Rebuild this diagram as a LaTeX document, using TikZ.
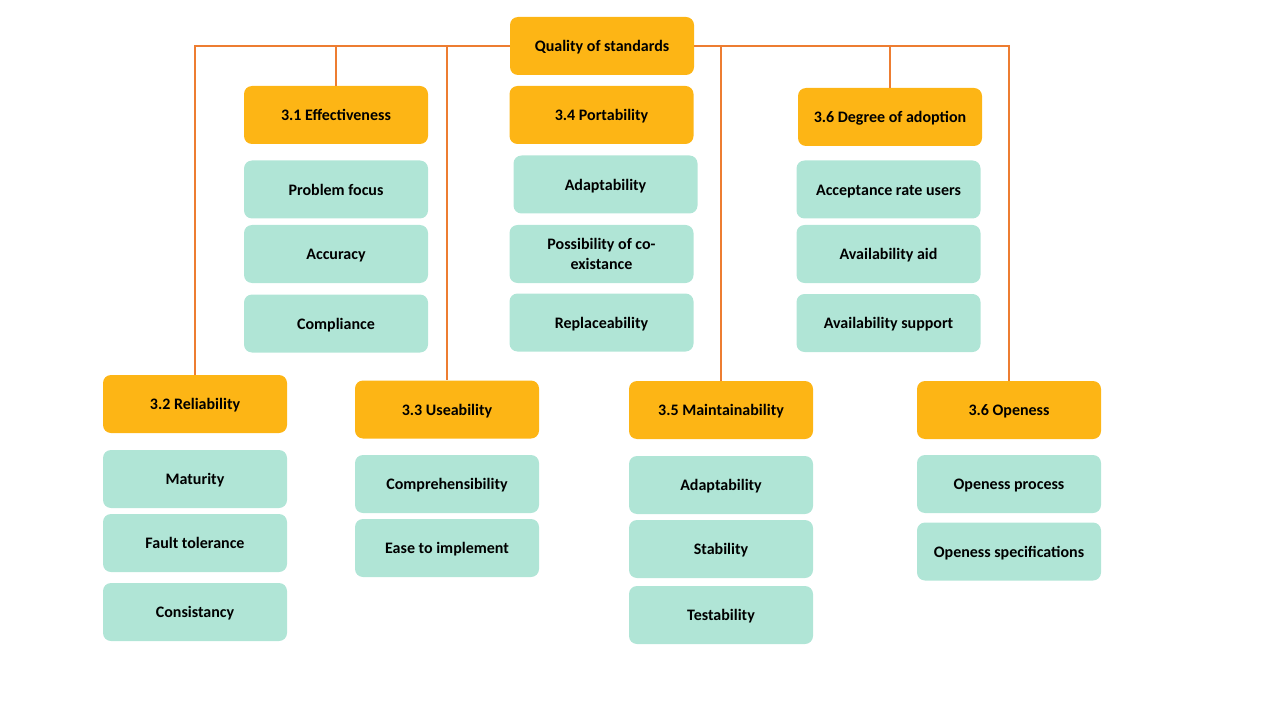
\documentclass[tikz,border=0pt]{standalone}
\usepackage{fontspec}
\setmainfont{Carlito}
\usetikzlibrary{positioning}
\definecolor{headfill}{HTML}{FDB515}
\definecolor{itemfill}{HTML}{B0E5D6}
\definecolor{linkcol}{HTML}{ED7D31}
\tikzset{%
box/.style={rounded corners=6pt,minimum width=138pt,minimum height=43.5pt,
  inner sep=2pt,align=center,text height=9pt,text depth=0.2pt,
  font=\bfseries\fontsize{12pt}{14.5pt}\selectfont},
head/.style={box,fill=headfill},
item/.style={box,fill=itemfill},
link/.style={linkcol,line width=1.4pt},
}
\begin{document}
\begin{tikzpicture}[x=0.75pt,y=-0.75pt]
 \useasboundingbox (0,0) rectangle (1280,720);
 % top
 \node[head] (root) at (602,46) {Quality of standards};
 \node[head] (eff) at (336,115) {3.1 Effectiveness};
 \node[head] (port) at (601.5,115) {3.4 Portability};
 \node[head] (adop) at (890,117) {3.6 Degree of adoption};
 \node[item] (eff1) at (336,189.5) {Problem focus};
 \node[item] (eff2) at (336,254) {Accuracy};
 \node[item] (eff3) at (336,323.5) {Compliance};
 \node[item] (port1) at (605.5,184.5) {Adaptability};
 \node[item,text height=,text depth=] (port2) at (601.5,254) {Possibility of co-\\existance};
 \node[item] (port3) at (601.5,322.5) {Replaceability};
 \node[item] (adop1) at (888.5,189.5) {Acceptance rate users};
 \node[item] (adop2) at (888.5,254) {Availability aid};
 \node[item] (adop3) at (888.5,323) {Availability support};
 % bottom
 \node[head] (rel) at (195,404) {3.2 Reliability};
 \node[head] (use) at (447,409.5) {3.3 Useability};
 \node[head] (main) at (721,410) {3.5 Maintainability};
 \node[head] (open) at (1009,410) {3.6 Openess};
 \node[item] (rel1) at (195,479) {Maturity};
 \node[item] (rel2) at (195,543) {Fault tolerance};
 \node[item] (rel3) at (195,612) {Consistancy};
 \node[item] (use1) at (447,484) {Comprehensibility};
 \node[item] (use2) at (447,548) {Ease to implement};
 \node[item] (main1) at (721,485) {Adaptability};
 \node[item] (main2) at (721,549) {Stability};
 \node[item] (main3) at (721,615) {Testability};
 \node[item] (open1) at (1009,484) {Openess process};
 \node[item] (open2) at (1009,551.5) {Openess specifications};
 % links
 \draw[link] (root.west) -| (rel.north);
 \draw[link] (root.west) -| (eff.north);
 \draw[link] (root.west) -| (use.north);
 \draw[link] (root.east) -| (main.north);
 \draw[link] (root.east) -| (adop.north);
 \draw[link] (root.east) -| (open.north);
\end{tikzpicture}
\end{document}
